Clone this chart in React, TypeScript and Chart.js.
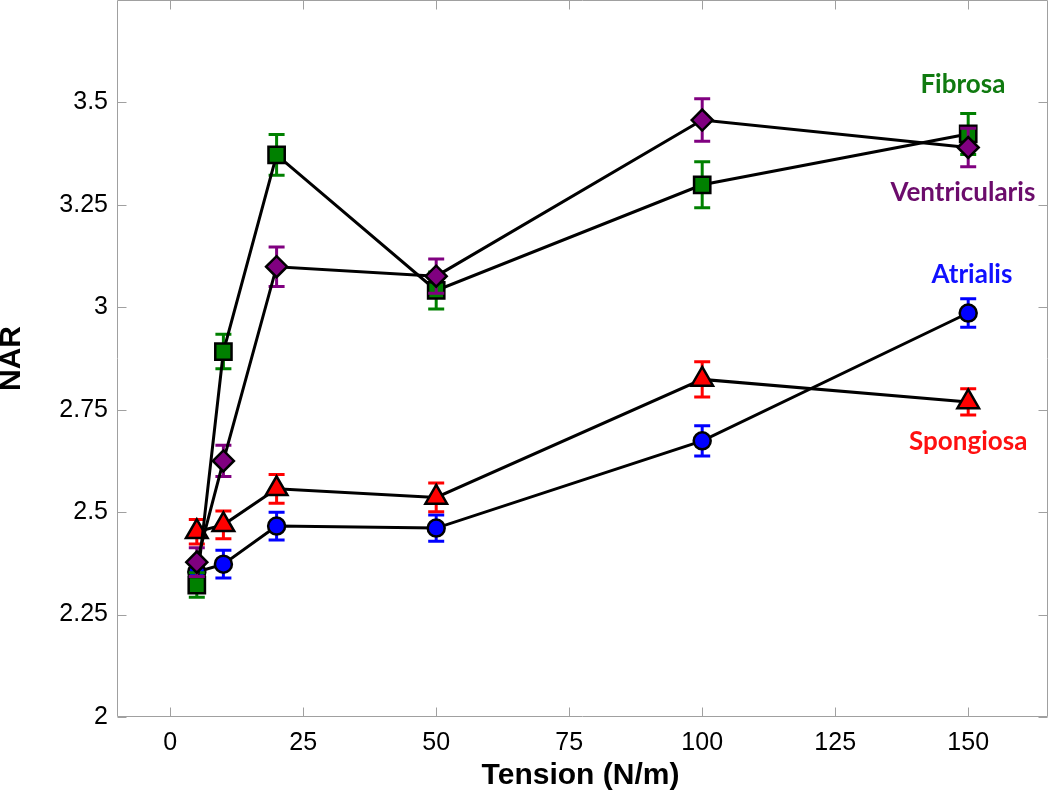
import React, { useEffect, useRef } from "react";
import { Chart, registerables } from "chart.js";

Chart.register(...registerables);

// ---- data ----
const tension = [5, 10, 20, 50, 100, 150];

const atrialis = [2.354, 2.373, 2.466, 2.461, 2.674, 2.986];
const atrialisErr = [0.03, 0.034, 0.034, 0.032, 0.037, 0.035];

const spongiosa = [2.452, 2.469, 2.557, 2.536, 2.824, 2.769];
const spongiosaErr = [0.03, 0.034, 0.035, 0.035, 0.043, 0.032];

const fibrosa = [2.322, 2.892, 3.372, 3.041, 3.299, 3.423];
const fibrosaErr = [0.03, 0.042, 0.05, 0.045, 0.056, 0.05];

const ventricularis = [2.378, 2.625, 3.099, 3.076, 3.457, 3.39];
const ventricularisErr = [0.035, 0.038, 0.048, 0.042, 0.052, 0.047];

const xTicks = [0, 25, 50, 75, 100, 125, 150];
const yTicks = [2, 2.25, 2.5, 2.75, 3, 3.25, 3.5];

// series annotations (anchored in data coordinates)
const labelNames = ["Fibrosa", "Ventricularis", "Atrialis", "Spongiosa"];
const labelX = [149, 149, 150.7, 150];
const labelY = [3.543, 3.279, 3.079, 2.671];
const labelColors = ["#107a10", "#6c0c6c", "#1010ff", "#ff1010"];

// ---- series styling ----
const series = [
  { name: "Ventricularis", values: ventricularis, err: ventricularisErr, color: "#800080", style: "rectRot", radius: 10.5 },
  { name: "Fibrosa", values: fibrosa, err: fibrosaErr, color: "#008000", style: "rect", radius: 11.5 },
  { name: "Spongiosa", values: spongiosa, err: spongiosaErr, color: "#ff0000", style: "triangle", radius: 12.5 },
  { name: "Atrialis", values: atrialis, err: atrialisErr, color: "#0000ff", style: "circle", radius: 8.5 },
];

const errorBarPlugin = {
  id: "errorBars",
  beforeDatasetDraw(chart: any, args: any) {
    const s = series[args.index];
    if (!s) return;
    const { ctx } = chart;
    const x = chart.scales.x;
    const y = chart.scales.y;
    ctx.save();
    ctx.strokeStyle = s.color;
    ctx.lineWidth = 3;
    ctx.lineCap = "butt";
    tension.forEach((t, i) => {
      const px = x.getPixelForValue(t);
      const top = y.getPixelForValue(s.values[i] + s.err[i]);
      const bot = y.getPixelForValue(s.values[i] - s.err[i]);
      ctx.beginPath();
      ctx.moveTo(px, top);
      ctx.lineTo(px, bot);
      ctx.moveTo(px - 8, top);
      ctx.lineTo(px + 8, top);
      ctx.moveTo(px - 8, bot);
      ctx.lineTo(px + 8, bot);
      ctx.stroke();
    });
    ctx.restore();
  },
};

const framePlugin = {
  id: "frame",
  beforeDatasetsDraw(chart: any) {
    const { ctx, chartArea } = chart;
    const x = chart.scales.x;
    const y = chart.scales.y;
    const L = Math.round(chartArea.left) + 0.5;
    const R = Math.round(chartArea.right) - 0.5;
    const T = Math.round(chartArea.top) + 0.5;
    const B = Math.round(chartArea.bottom) - 0.5;
    const tl = 9;
    ctx.save();
    ctx.strokeStyle = "#a0a0a0";
    ctx.lineWidth = 1;
    ctx.beginPath();
    ctx.rect(L, T, R - L, B - T);
    xTicks.forEach((t) => {
      const px = Math.round(x.getPixelForValue(t)) + 0.5;
      ctx.moveTo(px, B);
      ctx.lineTo(px, B - tl);
      ctx.moveTo(px, T);
      ctx.lineTo(px, T + tl);
    });
    yTicks.forEach((t) => {
      const py = Math.round(y.getPixelForValue(t)) + 0.5;
      ctx.moveTo(L, py);
      ctx.lineTo(L + tl, py);
      ctx.moveTo(R, py);
      ctx.lineTo(R - tl, py);
    });
    ctx.stroke();
    ctx.restore();
  },
  afterDraw(chart: any) {
    const { ctx, chartArea } = chart;
    const x = chart.scales.x;
    const y = chart.scales.y;
    ctx.save();
    // axis titles
    ctx.fillStyle = "#000";
    ctx.font = "bold 30px 'Liberation Sans', Arial, sans-serif";
    ctx.textAlign = "center";
    ctx.textBaseline = "middle";
    ctx.fillText("Tension (N/m)", (chartArea.left + chartArea.right) / 2 - 2, chartArea.bottom + 59);
    ctx.save();
    ctx.translate(12, (chartArea.top + chartArea.bottom) / 2);
    ctx.rotate(-Math.PI / 2);
    ctx.fillText("NAR", 0, 0);
    ctx.restore();
    // series labels
    ctx.font = "bold 26px Lato, 'Open Sans', sans-serif";
    labelNames.forEach((n, i) => {
      ctx.fillStyle = labelColors[i];
      ctx.fillText(n, x.getPixelForValue(labelX[i]), y.getPixelForValue(labelY[i]));
    });
    ctx.restore();
  },
};

const zeroPad = (scale: any) => {
  scale.paddingTop = 0;
  scale.paddingBottom = 0;
  scale.paddingLeft = 0;
  scale.paddingRight = 0;
};

export default function App() {
  const ref = useRef<HTMLCanvasElement | null>(null);

  useEffect(() => {
    if (!ref.current) return;
    const chart = new Chart(ref.current, {
      type: "line",
      data: {
        datasets: series.map((s) => ({
          label: s.name,
          data: tension.map((t, i) => ({ x: t, y: s.values[i] })),
          borderColor: "#000",
          borderWidth: 3,
          tension: 0,
          fill: false,
          pointStyle: s.style as any,
          pointRadius: s.radius,
          pointHoverRadius: s.radius,
          pointBackgroundColor: s.color,
          pointBorderColor: "#000",
          pointBorderWidth: 2.5,
          clip: false as any,
        })),
      },
      options: {
        animation: false,
        responsive: false,
        devicePixelRatio: 1,
        layout: { autoPadding: false, padding: { top: 0, right: 2, bottom: 0, left: 0 } },
        plugins: {
          legend: { display: false },
          tooltip: { enabled: false },
        },
        events: [],
        scales: {
          x: {
            type: "linear",
            min: -10,
            max: 165,
            grid: { display: false, drawTicks: false },
            border: { display: false },
            afterBuildTicks: (scale: any) => {
              scale.ticks = xTicks.map((v) => ({ value: v }));
            },
            afterFit: (scale: any) => {
              scale.height = 74;
              zeroPad(scale);
            },
            ticks: {
              padding: 11,
              color: "#000",
              font: { family: "'Liberation Sans', Arial, sans-serif", size: 25 },
              callback: (v: any) => String(v),
              maxRotation: 0,
            },
          },
          y: {
            type: "linear",
            min: 2,
            max: 3.75,
            grid: { display: false, drawTicks: false },
            border: { display: false },
            afterBuildTicks: (scale: any) => {
              scale.ticks = yTicks.map((v) => ({ value: v }));
            },
            afterFit: (scale: any) => {
              scale.width = 117;
              zeroPad(scale);
            },
            ticks: {
              padding: 9,
              color: "#000",
              font: { family: "'Liberation Sans', Arial, sans-serif", size: 25 },
              callback: (v: any) => String(v),
            },
          },
        },
      },
      plugins: [errorBarPlugin, framePlugin],
    });
    return () => chart.destroy();
  }, []);

  return (
    <div style={{ position: "absolute", left: 0, top: 0, width: 1050, height: 791, background: "#fff" }}>
      <canvas ref={ref} width={1050} height={791} style={{ display: "block" }} />
    </div>
  );
}
